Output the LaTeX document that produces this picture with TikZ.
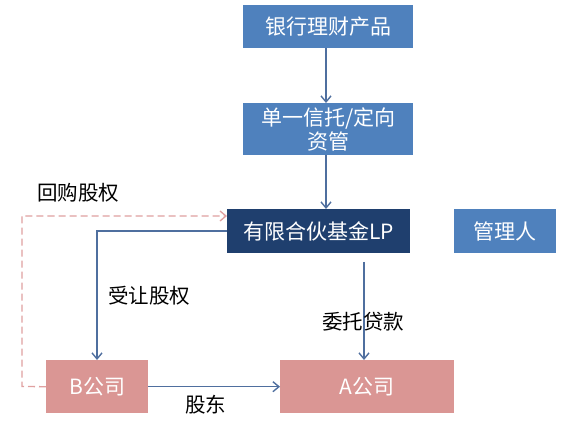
\documentclass[tikz,border=0pt]{standalone}
\usepackage{fontspec}
\setmainfont{Noto Sans CJK SC}
\usetikzlibrary{arrows.meta}
\definecolor{boxblue}{HTML}{4F81BD}
\definecolor{navy}{HTML}{1F3F6E}
\definecolor{boxpink}{HTML}{DA9694}
\definecolor{arrowblue}{HTML}{4F6F9F}
\definecolor{dashpink}{HTML}{E0A0A0}
\begin{document}
\begin{tikzpicture}[x=1pt,y=-1pt,
  base/.style={anchor=north west,inner sep=0pt,text=white,font=\fontsize{21}{24}\selectfont,align=center},
  bluebox/.style={base,fill=boxblue},
  navybox/.style={base,fill=navy},
  pinkbox/.style={base,fill=boxpink},
  lbl/.style={font=\fontsize{20.5}{22}\selectfont,text=black,inner sep=0pt},
  conn/.style={draw=arrowblue,line width=1.4pt,-{Straight Barb[length=6pt,width=10pt]}},
  dconn/.style={draw=dashpink,line width=1.3pt,dashed,dash pattern=on 7pt off 4pt,-{Straight Barb[length=6pt,width=10pt]}}]
\useasboundingbox[fill=white] (0,0) rectangle (564,427);
\node[bluebox,minimum width=170pt,minimum height=43pt] (bank) at (243,5) {银行理财产品};
\node[bluebox,minimum width=170pt,minimum height=52pt,text width=170pt] (trust) at (243,103) {单一信托/定向\\资管};
\node[navybox,minimum width=183pt,minimum height=44pt] (lp) at (227,209) {有限合伙基金LP};
\node[bluebox,minimum width=102pt,minimum height=44pt] (mgr) at (454,209) {管理人};
\node[pinkbox,minimum width=174pt,minimum height=53pt] (a) at (280,360) {A公司};
\node[pinkbox,minimum width=102pt,minimum height=53pt] (b) at (46,360) {B公司};

\draw[conn] (bank.south -| 326,0) -- (trust.north -| 326,0);
\draw[conn] (trust.south -| 326,0) -- (lp.north -| 326,0);
\draw[conn] (lp.west |- 0,231) -| (b.north -| 97,0);
\coordinate (lpout) at (364,262);
\draw[conn] (lpout) -- (a.north -| lpout);
\draw[conn] (b.east) -- (a.west);
\draw[dconn] (b.west) -- (22,386.5) -- (22,216) -- (lp.west |- 0,216);

\node[lbl,anchor=west] (l1) at (37,193) {回购股权};
\node[lbl,anchor=west] (l2) at (108,296) {受让股权};
\node[lbl,anchor=west] (l3) at (185,405) {股东};
\node[lbl,anchor=west] (l4) at (322,322) {委托贷款};
\end{tikzpicture}
\end{document}
